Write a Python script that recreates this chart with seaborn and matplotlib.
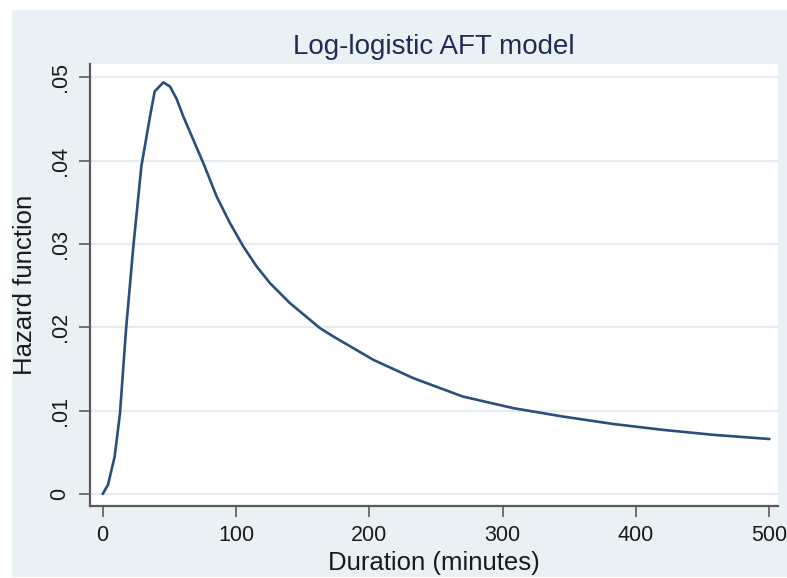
import matplotlib
matplotlib.use("Agg")
import matplotlib.pyplot as plt
import seaborn as sns
import pandas as pd
from matplotlib.patches import Rectangle

# Estimated hazard of the log-logistic AFT model, by duration in minutes
duration = [0, 4, 9, 13, 17.5, 23, 29, 35.5, 39, 45.5, 50.5, 55.5, 60.5, 68, 75.5,
            85.5, 95.5, 105.5, 115.5, 125.5, 140.5, 163, 173, 203, 233, 270, 308,
            345, 383, 420, 458, 500]
hazard = [0, .0011, .0045, .0097, .0197, .0297, .0393, .0453, .0483, .0494, .0489,
          .0474, .0453, .0425, .0397, .0357, .0325, .0297, .0273, .0253, .0229,
          .0199, .0189, .0161, .0139, .0117, .0103, .0093, .0084, .0077, .0071,
          .0066]

x_ticks = [0, 100, 200, 300, 400, 500]
y_ticks = [0, .01, .02, .03, .04, .05]
y_tick_labels = ["0", ".01", ".02", ".03", ".04", ".05"]

df = pd.DataFrame({"Duration (minutes)": duration, "Hazard function": hazard})

sns.set_theme(style="white")
plt.rcParams["font.family"] = ["Liberation Sans", "DejaVu Sans"]

BG = "#EAF1F4"
GRID = "#E3ECEF"
AXIS = "#5A5A5A"
LINE = "#2A4F7B"

fig = plt.figure(figsize=(7.87, 5.78), dpi=100, facecolor="white")
# graph region panel inside a thin white margin
fig.patches.append(Rectangle((12 / 787, 1 / 578), 1 - 12 / 787, 567 / 578,
                             transform=fig.transFigure, facecolor=BG,
                             edgecolor="none", zorder=-10))

ax = fig.add_axes([90 / 787, 72 / 578, 688 / 787, 442 / 578])
ax.set_zorder(1)
ax.set_facecolor("white")

sns.lineplot(data=df, x="Duration (minutes)", y="Hazard function", ax=ax,
             color=LINE, linewidth=1.9, zorder=3)

ax.set_xlim(-9.5, 506.5)
ax.set_ylim(-0.00144, 0.0516)

ax.set_xticks(x_ticks)
ax.set_xticklabels([str(v) for v in x_ticks])
ax.set_yticks(y_ticks)
ax.set_yticklabels(y_tick_labels, rotation=90, va="center")

ax.grid(axis="y", color=GRID, linewidth=1.6, zorder=1)
ax.grid(axis="x", visible=False)

for side in ("top", "right"):
    ax.spines[side].set_visible(False)
for side in ("left", "bottom"):
    ax.spines[side].set_color(AXIS)
    ax.spines[side].set_linewidth(1.6)

ax.tick_params(axis="both", which="major", direction="out", length=8, width=1.2,
               color=AXIS, labelsize=15.5, labelcolor="#1A1A1A", pad=6,
               left=True, bottom=True)

ax.set_xlabel("Duration (minutes)", fontsize=18.5, color="#1A1A1A", labelpad=3)
ax.set_ylabel("Hazard function", fontsize=18.5, color="#1A1A1A", labelpad=9)
ax.set_title("Log-logistic AFT model", fontsize=20, color="#1F2C55", pad=7)

fig.savefig("out.png", dpi=100, facecolor="white")
